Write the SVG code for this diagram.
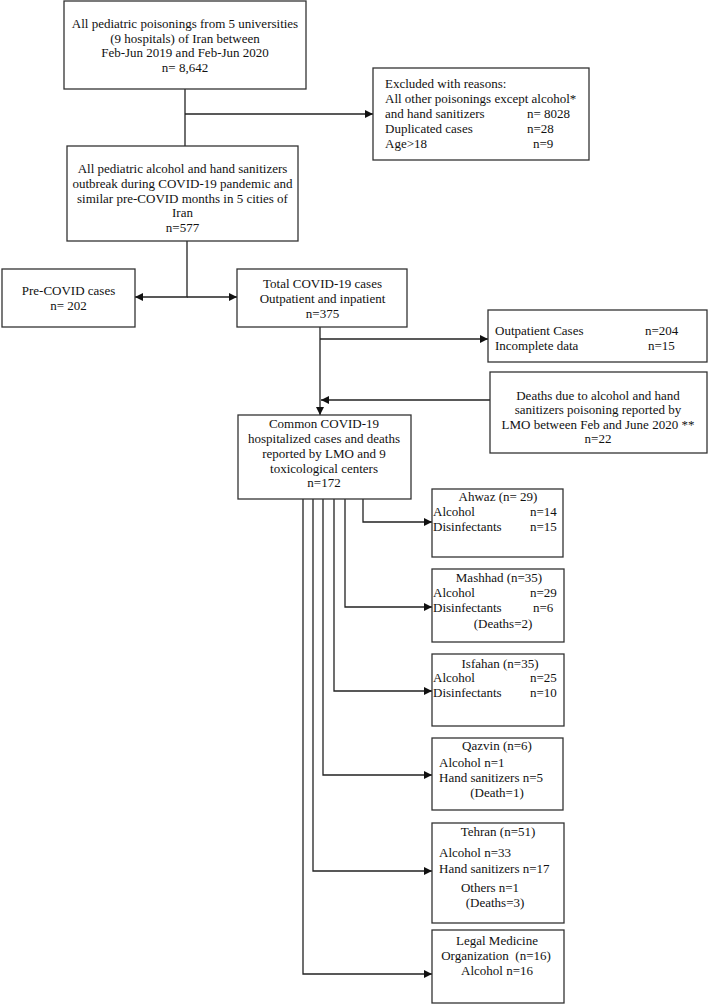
<svg xmlns="http://www.w3.org/2000/svg" width="709" height="1005" viewBox="0 0 709 1005">
<defs>
<marker id="arr" viewBox="0 0 10 10" refX="10" refY="5" markerWidth="9" markerHeight="8" markerUnits="userSpaceOnUse" orient="auto">
<path d="M0,0 L10,5 L0,10 z" fill="#111"/>
</marker>
<style>
.box{fill:#fff;stroke:#333;stroke-width:1.3}
text{font-family:"Liberation Serif","Times New Roman",serif;font-size:13px;fill:#111}
.c{text-anchor:middle}
.ln{fill:none;stroke:#222;stroke-width:1.3}
.a{marker-end:url(#arr)}
</style>
</defs>
<rect width="709" height="1005" fill="#fff"/>

<g id="connectors">
<path class="ln" d="M185,89 V146"/>
<path class="ln a" d="M185,114 H373"/>
<path class="ln a" d="M187,241 V297 H135"/>
<path class="ln a" d="M187,297 H237"/>
<path class="ln a" d="M320,327 V415"/>
<path class="ln a" d="M320,339 H488"/>
<path class="ln a" d="M490,400 H321"/>
<path class="ln a" d="M363,499 V522 H432"/>
<path class="ln a" d="M345,499 V607 H432"/>
<path class="ln a" d="M334,499 V691 H432"/>
<path class="ln a" d="M323,499 V775 H432"/>
<path class="ln a" d="M313,499 V871 H432"/>
<path class="ln a" d="M303,499 V974 H432"/>
</g>

<g id="n-all">
<rect class="box" x="64" y="1" width="242" height="88"/>
<text class="c" x="185" y="28">All pediatric poisonings from 5 universities</text>
<text class="c" x="185" y="42.7">(9 hospitals) of Iran between</text>
<text class="c" x="185" y="57.4">Feb-Jun 2019 and Feb-Jun 2020</text>
<text class="c" x="185" y="72.1">n= 8,642</text>
</g>

<g id="n-excluded">
<rect class="box" x="373" y="68" width="216" height="92"/>
<text x="385" y="88">Excluded with reasons:</text>
<text x="385" y="103">All other poisonings except alcohol*</text>
<text x="385" y="118">and hand sanitizers</text>
<text x="527" y="118">n= 8028</text>
<text x="385" y="133">Duplicated cases</text>
<text x="527" y="133">n=28</text>
<text x="385" y="148">Age&gt;18</text>
<text x="533" y="148">n=9</text>
</g>

<g id="n-577">
<rect class="box" x="67" y="146" width="231" height="95"/>
<text class="c" x="182.5" y="172.5">All pediatric alcohol and hand sanitizers</text>
<text class="c" x="182.5" y="187.5">outbreak during COVID-19 pandemic and</text>
<text class="c" x="182.5" y="202.5">similar pre-COVID months in 5 cities of</text>
<text class="c" x="182.5" y="217">Iran</text>
<text class="c" x="182.5" y="231.5">n=577</text>
</g>

<g id="n-precovid">
<rect class="box" x="2" y="269" width="133" height="58"/>
<text class="c" x="68.5" y="295">Pre-COVID cases</text>
<text class="c" x="68.5" y="310">n= 202</text>
</g>

<g id="n-total">
<rect class="box" x="237" y="269" width="170" height="58"/>
<text class="c" x="322.5" y="288">Total COVID-19 cases</text>
<text class="c" x="322.5" y="303">Outpatient and inpatient</text>
<text class="c" x="322.5" y="318">n=375</text>
</g>

<g id="n-outpatient">
<rect class="box" x="488" y="310" width="219" height="52"/>
<text x="495" y="335">Outpatient Cases</text>
<text x="645" y="335">n=204</text>
<text x="495" y="349.5">Incomplete data</text>
<text x="648" y="349.5">n=15</text>
</g>

<g id="n-deaths">
<rect class="box" x="490" y="372" width="217" height="81"/>
<text class="c" x="598" y="399.5">Deaths due to alcohol and hand</text>
<text class="c" x="598" y="414">sanitizers poisoning reported by</text>
<text class="c" x="598" y="428.5">LMO between Feb and June 2020 **</text>
<text class="c" x="598" y="443">n=22</text>
</g>

<g id="n-172">
<rect class="box" x="238" y="415" width="173" height="84"/>
<text class="c" x="324" y="427.5">Common COVID-19</text>
<text class="c" x="324" y="442.5">hospitalized cases and deaths</text>
<text class="c" x="324" y="457.5">reported by LMO and 9</text>
<text class="c" x="324" y="472.5">toxicological centers</text>
<text class="c" x="324" y="486.5">n=172</text>
</g>

<g id="n-ahwaz">
<rect class="box" x="432" y="489" width="131" height="68"/>
<text class="c" x="498" y="500.5">Ahwaz (n= 29)</text>
<text x="433" y="515.5">Alcohol</text>
<text x="530" y="515.5">n=14</text>
<text x="433" y="530.5">Disinfectants</text>
<text x="530" y="530.5">n=15</text>
</g>

<g id="n-mashhad">
<rect class="box" x="432" y="569" width="132" height="73"/>
<text class="c" x="499" y="581.5">Mashhad (n=35)</text>
<text x="433" y="596.5">Alcohol</text>
<text x="530" y="596.5">n=29</text>
<text x="433" y="611.5">Disinfectants</text>
<text x="533" y="611.5">n=6</text>
<text class="c" x="503" y="627.5">(Deaths=2)</text>
</g>

<g id="n-isfahan">
<rect class="box" x="432" y="654" width="132" height="72"/>
<text class="c" x="500" y="667.5">Isfahan (n=35)</text>
<text x="433" y="681.5">Alcohol</text>
<text x="530" y="681.5">n=25</text>
<text x="433" y="696.5">Disinfectants</text>
<text x="530" y="696.5">n=10</text>
</g>

<g id="n-qazvin">
<rect class="box" x="432" y="738" width="131" height="72"/>
<text class="c" x="497" y="749.5">Qazvin (n=6)</text>
<text x="439" y="766.5">Alcohol n=1</text>
<text x="439" y="781.5">Hand sanitizers n=5</text>
<text class="c" x="497" y="796.5">(Death=1)</text>
</g>

<g id="n-tehran">
<rect class="box" x="432" y="823" width="132" height="100"/>
<text class="c" x="498" y="835.5">Tehran (n=51)</text>
<text x="439" y="856.5">Alcohol n=33</text>
<text x="439" y="872.5">Hand sanitizers n=17</text>
<text class="c" x="490" y="891.5">Others n=1</text>
<text class="c" x="495" y="906.5">(Deaths=3)</text>
</g>

<g id="n-lmo">
<rect class="box" x="432" y="930" width="132" height="73"/>
<text class="c" x="497" y="944.5">Legal Medicine</text>
<text class="c" x="496" y="959.5" xml:space="preserve">Organization  (n=16)</text>
<text class="c" x="497" y="974.5">Alcohol n=16</text>
</g>
</svg>
